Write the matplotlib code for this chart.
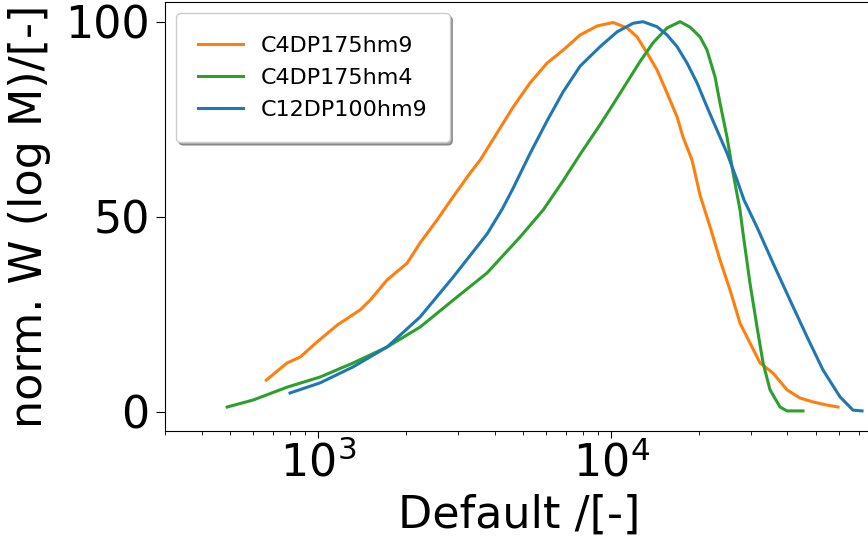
import matplotlib
matplotlib.use("Agg")
import matplotlib.pyplot as plt

# molar mass distributions
m_c4_hm9 = [665, 783, 868, 992, 1161, 1391, 1505, 1720, 2013, 2229, 2548, 2889,
            3303, 3572, 4083, 4630, 5290, 6048, 6859, 7840, 8960, 10160, 11340,
            12270, 13270, 14360, 15530, 16800, 17610, 18900, 20130, 21770,
            23550, 25480, 27560, 29810, 32250, 35720, 39870, 44170, 48920,
            54610, 59530]
w_c4_hm9 = [8.1, 12.5, 14.0, 17.9, 22.2, 26.1, 28.6, 33.8, 38.1, 43.3, 49.2, 55.1,
            61.2, 64.5, 71.5, 78.1, 84.3, 89.4, 92.7, 96.6, 98.9, 99.8, 98.4,
            96.1, 92.0, 87.6, 81.7, 75.6, 70.4, 64.5, 55.5, 47.4,
            38.9, 31.2, 22.7, 17.6, 12.5, 9.9, 5.6, 3.5, 2.5,
            1.7, 1.2]

m_c4_hm4 = [489, 600, 784, 1016, 1317, 1720, 2229, 2889, 3775, 4891, 5862, 6859,
            7840, 9173, 10160, 11340, 12560, 13910, 15530, 17200, 18610, 20130,
            21270, 22650, 23550, 24880, 26090, 27560, 28210, 29810, 31500,
            33030, 34890, 37740, 39870, 45210]
w_c4_hm4 = [1.2, 3.0, 6.3, 8.9, 12.5, 16.6, 21.7, 28.6, 35.6, 44.8, 51.7, 59.2,
            66.0, 73.6, 78.8, 84.5, 89.8, 94.6, 98.4, 100.0, 98.6, 96.1,
            92.7, 85.8, 79.1, 70.4, 61.2, 51.7, 45.8, 32.9, 21.7,
            12.5, 5.6, 1.2, 0.2, 0.2]

m_c12_hm9 = [802, 1016, 1317, 1720, 2229, 2889, 3775, 4246, 4630, 5290, 6048,
             6859, 7840, 9173, 10484, 11890, 12860, 14360, 15530, 16800, 18170,
             19660, 21270, 23000, 24880, 26920, 28430, 31500, 35720, 40830,
             46670, 52900, 60480, 66990, 71900]
w_c12_hm9 = [4.8, 7.4, 11.5, 16.6, 24.3, 34.5, 45.6, 51.9, 57.3, 66.2, 74.6,
             82.0, 88.6, 93.6, 97.4, 99.6, 100.0, 98.7, 96.6, 93.6, 89.4,
             84.3, 78.1, 72.2, 66.3, 59.4, 54.3, 47.3, 38.1, 28.6,
             19.2, 10.7, 3.8, 0.4, 0.2]

fig = plt.figure(figsize=(8.68, 5.44), dpi=100)
# right spine sits just past the figure edge, as in the reference
ax = fig.add_axes([165 / 868, 112.8 / 544, 709 / 868, 429 / 544])

ax.plot(m_c4_hm9, w_c4_hm9, color="C1", lw=2.2, label="C4DP175hm9")
ax.plot(m_c4_hm4, w_c4_hm4, color="C2", lw=2.2, label="C4DP175hm4")
ax.plot(m_c12_hm9, w_c12_hm9, color="C0", lw=2.2, label="C12DP100hm9")

ax.set_xscale("log")
ax.set_xlim(300, 79000)
ax.set_ylim(-5, 105)
ax.set_yticks([0, 50, 100])
ax.tick_params(axis="both", which="major", labelsize=32)
ax.tick_params(axis="x", which="major", length=5.3, pad=2)
ax.tick_params(axis="x", which="minor", length=2.9)
ax.tick_params(axis="y", which="major", length=6.5, pad=4.5)

ax.set_xlabel("Default /[-]", fontsize=32)
ax.set_ylabel("norm. W (log M)/[-]", fontsize=32)
ax.xaxis.set_label_coords(0.5, -0.146)
ax.yaxis.set_label_coords(-0.161, 0.5)
ax.legend(loc="upper left", fontsize=16, shadow=True,
          borderpad=1.0, labelspacing=0.55)

fig.savefig("out.png", dpi=100)
